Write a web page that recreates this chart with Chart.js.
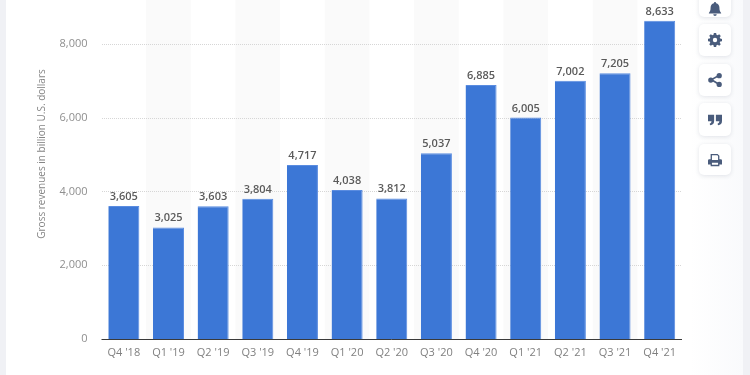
<!DOCTYPE html>
<html>
<head>
<meta charset="utf-8">
<script src="https://cdn.jsdelivr.net/npm/chart.js@4"></script>
<style>
    html, body { margin: 0; padding: 0; background: #fff; overflow: hidden; }
    #wrap { position: relative; width: 750px; height: 375px; }
    #chart-1 { position: absolute; left: 0; top: 0; }
    .strip { position: absolute; top: 0; height: 375px; background: #f0f1f5; }
    #shade { position: absolute; top: 0; left: 690px; width: 53px; height: 375px;
        background: linear-gradient(to right, #ffffff, #f9fafc); }
    .btn { position: absolute; left: 699px; width: 32px; background: #fff; border-radius: 5px;
        box-shadow: 0 1px 4px rgba(60, 70, 100, 0.14); display: flex; align-items: center; justify-content: center; }
    .btn svg { width: 14px; height: 14px; fill: #4a5c7c; }
</style>
</head>
<body>
<div id="wrap">
    <div id="shade"></div>
    <canvas id="chart-1" width="750" height="375"></canvas>
    <div class="strip" style="left:0;width:6px"></div>
    <div class="strip" style="left:743px;width:7px"></div>

    <div class="btn" style="top:-16px;height:33px">
        <svg viewBox="0 0 16 16" style="margin-top:16px"><path d="M8 0a1.3 1.3 0 0 1 1.3 1.3C11.6 1.9 13 3.8 13 6c0 4 1 5.300 2 6.500V13H1v-.5C2 11.300 3 10 3 6c0-2.200 1.400-4.100 3.700-4.700A1.300 1.300 0 0 1 8 0zM6 14h4a2 2 0 0 1-4 0z"/></svg>
    </div>
    <div class="btn" style="top:24px;height:32px">
        <svg viewBox="0 0 16 16"><path d="M6.700 0h2.600l.4 2.100 1.300.6 1.800-1.200 1.800 1.800-1.200 1.800.6 1.300 2 .4v2.600l-2 .4-.6 1.300 1.200 1.800-1.800 1.800-1.800-1.200-1.300.6-.4 2H6.700l-.4-2-1.300-.6-1.800 1.200-1.800-1.800 1.200-1.800-.6-1.300-2-.4V6.700l2-.4.6-1.300-1.200-1.800 1.800-1.800L5 2.700l1.300-.6zM8 5.500a2.500 2.500 0 1 0 0 5 2.500 2.500 0 0 0 0-5z" fill-rule="evenodd"/></svg>
    </div>
    <div class="btn" style="top:64px;height:32px">
        <svg viewBox="0 0 16 16"><circle cx="3.200" cy="8" r="3"/><circle cx="12.800" cy="3" r="3"/><circle cx="12.800" cy="13" r="3"/><path d="M3 7l9-5 1 1.600-9 5zM4 6.500l9 5.500-1 1.700-9-5.500z"/></svg>
    </div>
    <div class="btn" style="top:103px;height:33px">
        <svg viewBox="0 0 16 16"><path d="M0 2h7v7c0 2.800-1.500 4.500-4.500 5l-.6-1.800C3.300 11.800 4 11 4 9.500H0zM9 2h7v7c0 2.800-1.500 4.500-4.500 5l-.6-1.800c1.400-.4 2.100-1.200 2.100-2.700H9z"/></svg>
    </div>
    <div class="btn" style="top:144px;height:31px">
        <svg viewBox="0 0 16 16"><path fill-rule="evenodd" d="M3 1h8l2 2v4h1.500A1.500 1.500 0 0 1 16 8.500V13h-3v2H3v-2H0V8.500A1.500 1.500 0 0 1 1.500 7H3zm1.500 1.500V8h7V3.500l-1-1zM4.500 11v2.500h7V11z"/></svg>
    </div>
</div>

<script>
    const categories = ["Q4 '18", "Q1 '19", "Q2 '19", "Q3 '19", "Q4 '19", "Q1 '20", "Q2 '20", "Q3 '20", "Q4 '20", "Q1 '21", "Q2 '21", "Q3 '21", "Q4 '21"];
    const revenues = [3605, 3025, 3603, 3804, 4717, 4038, 3812, 5037, 6885, 6005, 7002, 7205, 8633];
    const yTicks = [0, 2000, 4000, 6000, 8000];
    const yAxisTitle = 'Gross revenues in billion U.S. dollars';

    const fontFamily = '"Open Sans", "Noto Sans", sans-serif';

    // Alternating grey columns behind the bars
    const bandPlugin = {
        id: 'bands',
        beforeDatasetsDraw(chart) {
            const {ctx, chartArea, scales: {x}} = chart;
            const step = x.getPixelForValue(1) - x.getPixelForValue(0);
            ctx.save();
            ctx.fillStyle = '#fafafa';
            categories.forEach((c, i) => {
                if (i % 2 === 1) {
                    ctx.fillRect(x.getPixelForValue(i) - step / 2, chartArea.top, step, chartArea.bottom - chartArea.top);
                }
            });
            ctx.restore();
        }
    };

    // Dotted grid lines over the bands, dark baseline, axis title and the value labels
    const labelPlugin = {
        id: 'valueLabels',
        beforeDatasetsDraw(chart) {
            const {ctx, chartArea, scales: {y}} = chart;
            ctx.save();
            ctx.strokeStyle = '#d6d6d6';
            ctx.lineWidth = 1;
            ctx.setLineDash([1, 1]);
            y.ticks.forEach(t => {
                if (t.value === 0) return;
                const py = Math.round(y.getPixelForValue(t.value)) + 0.5;
                ctx.beginPath();
                ctx.moveTo(Math.round(chartArea.left), py);
                ctx.lineTo(Math.round(chartArea.right), py);
                ctx.stroke();
            });
            ctx.restore();
        },
        afterDatasetsDraw(chart) {
            const {ctx, chartArea, scales: {y}} = chart;
            const bars = chart.getDatasetMeta(0).data;
            ctx.save();
            ctx.strokeStyle = '#3a3a3a';
            ctx.lineWidth = 1;
            const base = Math.round(y.getPixelForValue(0)) + 0.5;
            ctx.beginPath();
            ctx.moveTo(chartArea.left, base);
            ctx.lineTo(chartArea.right, base);
            ctx.stroke();

            ctx.fillStyle = '#5a5a5a';
            ctx.font = '600 11px ' + fontFamily;
            ctx.textAlign = 'center';
            ctx.textBaseline = 'alphabetic';
            bars.forEach((bar, i) => {
                ctx.fillText(revenues[i].toLocaleString('en-US'), bar.x, bar.y - 6);
            });

            ctx.translate(42, 154);
            ctx.rotate(-Math.PI / 2);
            ctx.fillStyle = '#858585';
            ctx.font = '10px ' + fontFamily;
            ctx.textBaseline = 'middle';
            ctx.fillText(yAxisTitle, 0, 0);
            ctx.restore();
        }
    };

    const ctx = document.getElementById('chart-1').getContext('2d');

    new Chart(ctx, {
        type: 'bar',
        data: {
            labels: categories,
            datasets: [{
                data: revenues,
                backgroundColor: '#3c77d6',
                borderColor: '#5a8ce0',
                borderWidth: {top: 1, left: 0, right: 1, bottom: 0},
                categoryPercentage: 1,
                barPercentage: 0.695
            }]
        },
        options: {
            responsive: false,
            animation: false,
            events: [],
            layout: {padding: {left: 0, right: 68, top: 0, bottom: 0}},
            plugins: {
                legend: {display: false},
                tooltip: {enabled: false}
            },
            scales: {
                x: {
                    afterFit(scale) { scale.height = 36; },
                    grid: {display: false, drawTicks: false},
                    border: {display: false},
                    ticks: {
                        color: '#808080',
                        font: {family: fontFamily, size: 11},
                        padding: 7,
                        maxRotation: 0,
                        autoSkip: false
                    }
                },
                y: {
                    min: 0,
                    max: 9193,
                    afterBuildTicks(scale) { scale.ticks = yTicks.map(v => ({value: v})); },
                    afterFit(scale) {
                        scale.width = 101.5;
                        // the bars run up to the top edge of the page
                        scale.paddingTop = 0;
                        scale.paddingBottom = 0;
                    },
                    grid: {display: false, drawTicks: false},
                    border: {display: false},
                    ticks: {
                        color: '#8f8f8f',
                        font: {family: fontFamily, size: 11},
                        padding: 14,
                        callback: v => v.toLocaleString('en-US')
                    }
                }
            }
        },
        plugins: [bandPlugin, labelPlugin]
    });
</script>
</body>
</html>
